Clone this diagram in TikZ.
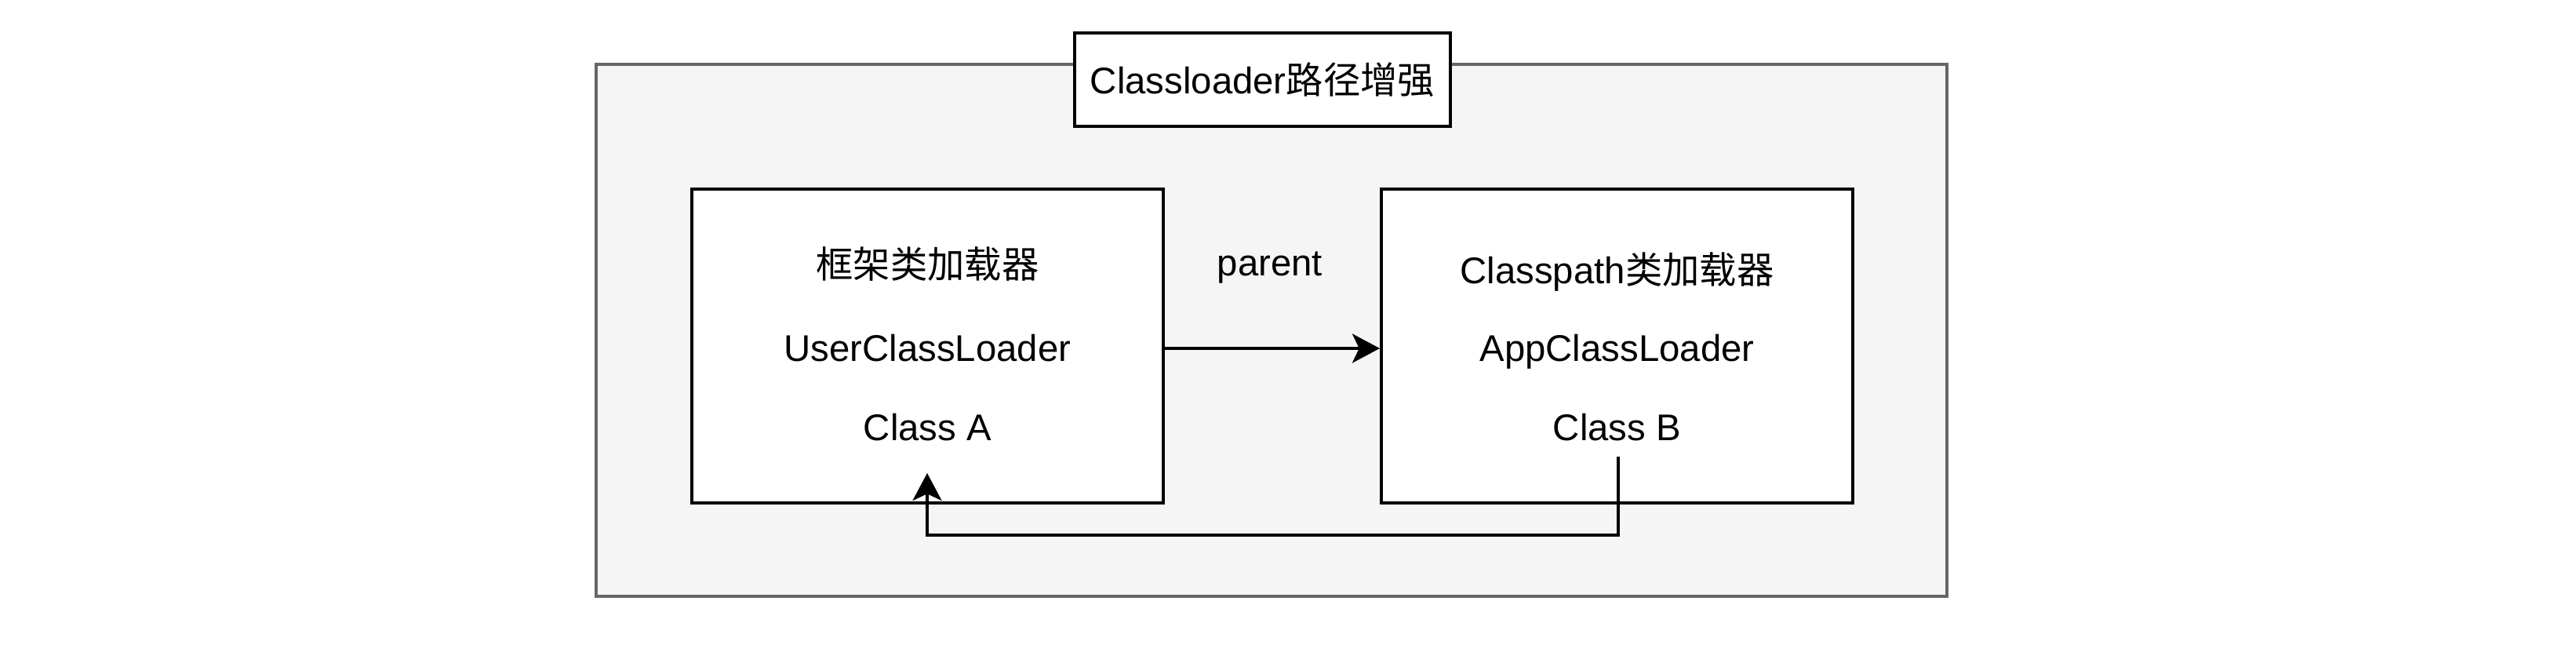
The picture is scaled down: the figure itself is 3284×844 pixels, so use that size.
\documentclass[tikz,border=0pt]{standalone}
\usepackage{fontspec}
\setmainfont{Liberation Sans}
\newfontfamily\cjk{Noto Sans CJK SC}
\usetikzlibrary{arrows.meta,calc}
\definecolor{outerfill}{HTML}{F5F5F5}
\definecolor{outerline}{HTML}{666666}
\tikzset{
  outerbox/.style={draw=outerline, fill=outerfill, line width=1.2pt, minimum width=516.6pt, minimum height=203.4pt, inner sep=0pt},
  titlebox/.style={draw=black, fill=white, line width=1.2pt, minimum width=143.7pt, minimum height=35.7pt, inner sep=0pt, font=\fontsize{14.2pt}{17pt}\selectfont},
  loaderbox/.style={draw=black, fill=white, line width=1.2pt, minimum width=180.3pt, minimum height=120pt, inner sep=0pt},
  txt/.style={inner sep=0pt, font=\fontsize{14.2pt}{17pt}\selectfont},
  conn/.style={draw=black, line width=1.2pt, -{Stealth[length=10.5pt, width=11.1pt, inset=2.6pt]}}
}
\begin{document}
\begin{tikzpicture}[x=0.3pt, y=-0.3pt]
\useasboundingbox (0,0) rectangle (3284,844);
\node[outerbox] (outer) at (1621,421) {};
\node[titlebox] (title) at (1609.5,101.5) {Classloader{\cjk 路径增强}};
\node[loaderbox] (L) at (1182.5,441) {};
\node[loaderbox] (R) at (2061.5,441) {};
\node[txt] (a1) at (1182.5,336) {\cjk 框架类加载器};
\node[txt] (a2) at (1182.5,444) {UserClassLoader};
\node[txt] (a3) at (1182.5,545) {Class A};
\node[txt] (b1) at (2061.5,346) {Classpath{\cjk 类加载器}};
\node[txt] (b2) at (2061.5,448) {AppClassLoader};
\node[txt] (b3) at (2061.5,545) {Class B};
\node[txt] (par) at (1619,341) {parent};
\coordinate (bstart) at (2063,582);
\coordinate (aend) at (1182,603);
\draw[conn] (L.east |- a2) -- (R.west |- a2);
\draw[conn] (bstart) -- (2063,682) -| (aend);
\end{tikzpicture}
\end{document}
